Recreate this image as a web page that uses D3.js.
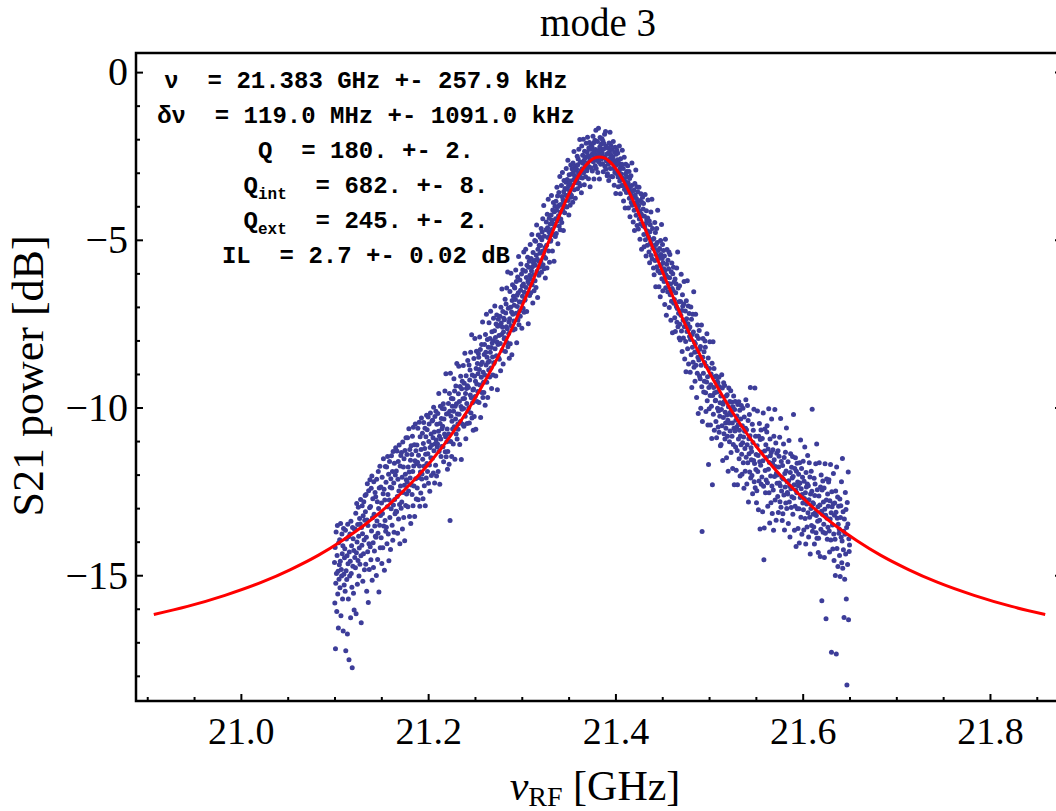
<!DOCTYPE html>
<html>
<head>
<meta charset="utf-8">
<script src="https://cdn.jsdelivr.net/npm/d3@7"></script>
<style>
  body { margin: 0; background: #fff; }
</style>
</head>
<body>
<div id="chart"></div>
<script>
// sweep limits of the network analyser (GHz), points are evenly spaced
const sweepGHz = [21.10, 21.65];

// measured S21 power, one value per sweep point (dB), 32 points per row pair
const s21dB = [
  -14.62, -15.83, -14.17, -17.19, -15.24, -13.71, -14.95, -16.08, -14.41, -13.52, -15.56, -14.88, -16.57, -14.03, -15.12, -14.69,
  -13.94, -15.37, -14.58, -13.46, -16.21, -14.83, -15.02, -13.77, -14.36, -15.71, -14.12, -16.66, -13.61, -14.97, -15.29, -14.48,
  -14.21, -15.48, -13.66, -17.25, -14.87, -13.92, -15.13, -14.42, -16.75, -13.48, -14.66, -15.71, -13.85, -17.52, -14.31, -15.02,
  -13.77, -14.58, -16.27, -13.39, -14.95, -14.12, -15.36, -17.76, -13.58, -14.73, -13.91, -15.54, -14.26, -16.04, -13.63, -14.47,
  -13.62, -14.78, -13.15, -16.15, -14.33, -12.86, -14.01, -15.27, -13.49, -14.56, -12.97, -13.84, -15.02, -14.19, -13.31, -14.67,
  -13.47, -12.74, -14.42, -16.42, -13.58, -14.11, -12.93, -13.76, -15.18, -13.23, -14.36, -12.81, -13.95, -14.84, -13.36, -12.62,
  -13.11, -14.67, -12.59, -13.87, -15.48, -13.35, -12.27, -14.30, -13.52, -15.81, -12.48, -14.06, -14.83, -12.99, -12.15, -14.15,
  -12.95, -14.54, -12.41, -13.68, -12.04, -15.15, -13.29, -12.72, -14.03, -14.77, -12.21, -13.18, -14.28, -13.53, -12.53, -13.84,
  -12.66, -13.87, -15.01, -12.14, -13.38, -12.81, -14.53, -13.75, -11.91, -13.01, -15.50, -12.40, -13.51, -11.75, -14.18, -13.22,
  -12.37, -13.88, -12.85, -14.65, -12.08, -13.16, -14.18, -12.57, -11.53, -13.53, -12.44, -14.85, -12.76, -13.37, -11.76, -13.69,
  -12.23, -13.57, -11.77, -14.06, -12.96, -11.46, -12.59, -13.77, -11.99, -14.57, -12.76, -11.61, -13.28, -12.38, -14.23, -12.12,
  -13.02, -11.44, -12.40, -13.51, -11.91, -13.96, -11.31, -12.91, -12.25, -13.72, -11.66, -12.74, -13.17, -12.01, -11.20, -13.09,
  -11.89, -13.11, -11.30, -12.65, -13.75, -12.14, -11.61, -13.32, -12.49, -11.12, -12.89, -14.06, -11.74, -12.34, -11.43, -13.00,
  -11.34, -12.82, -12.08, -13.62, -11.03, -12.53, -11.77, -13.28, -11.53, -12.32, -13.97, -11.28, -11.99, -12.92, -10.90, -12.15,
  -12.58, -11.40, -12.23, -10.90, -12.96, -11.77, -12.49, -10.63, -11.92, -13.25, -11.25, -12.10, -11.57, -13.46, -11.14, -12.31,
  -11.40, -12.59, -10.86, -11.91, -12.93, -10.59, -11.74, -12.34, -11.11, -13.25, -11.59, -10.49, -12.12, -11.29, -12.73, -11.68,
  -11.12, -12.40, -11.63, -10.62, -12.75, -11.42, -12.09, -10.44, -11.74, -12.94, -10.87, -11.92, -12.55, -11.25, -10.31, -12.13,
  -11.98, -10.77, -11.54, -12.72, -11.07, -10.45, -11.75, -12.33, -11.22, -10.62, -12.93, -11.39, -10.87, -12.10, -10.23, -11.67,
  -10.66, -11.91, -11.38, -10.28, -12.26, -11.01, -10.49, -11.71, -12.50, -11.19, -10.16, -11.50, -10.79, -12.03, -11.12, -10.40,
  -11.51, -10.38, -10.90, -11.95, -9.99, -11.29, -10.73, -12.25, -10.27, -11.08, -11.72, -10.11, -10.97, -12.04, -10.50, -11.18,
  -11.09, -10.18, -11.91, -10.71, -9.58, -11.31, -10.86, -12.29, -10.48, -9.96, -10.94, -11.46, -10.33, -11.16, -10.63, -10.03,
  -10.56, -11.17, -9.89, -11.62, -10.34, -10.04, -10.79, -9.51, -11.32, -10.87, -8.99, -11.47, -10.19, -11.02, -10.64, -11.84,
  -11.31, -10.18, -9.88, -10.79, -11.69, -9.58, -10.11, -13.37, -8.98, -11.01, -10.26, -9.73, -11.46, -10.41, -9.96, -10.64,
  -9.74, -11.09, -10.11, -9.14, -10.57, -9.51, -11.54, -9.96, -10.34, -9.36, -10.79, -9.89, -8.69, -10.94, -10.19, -10.49,
  -10.65, -9.59, -8.77, -10.20, -9.82, -11.10, -9.37, -10.42, -9.07, -9.97, -11.55, -9.44, -10.05, -9.22, -10.50, -9.74,
  -8.75, -10.03, -10.56, -9.28, -9.73, -8.38, -10.26, -9.58, -10.93, -9.05, -9.43, -9.88, -10.48, -9.35, -8.60, -10.11,
  -9.40, -10.01, -8.73, -10.46, -9.18, -8.88, -9.63, -8.35, -10.16, -9.71, -7.83, -10.31, -9.03, -9.86, -9.48, -10.68,
  -9.45, -8.54, -10.27, -9.07, -7.94, -9.67, -9.22, -10.65, -8.84, -8.32, -9.30, -9.82, -8.69, -9.52, -8.99, -8.39,
  -8.50, -9.85, -8.87, -7.90, -9.33, -8.27, -10.30, -8.72, -9.10, -8.12, -9.55, -8.65, -7.45, -9.70, -8.95, -9.25,
  -9.55, -8.42, -8.12, -9.03, -9.93, -7.82, -8.35, -8.73, -7.22, -9.25, -8.50, -7.97, -9.70, -8.65, -8.20, -8.88,
  -7.47, -8.62, -9.09, -7.94, -8.35, -7.13, -8.82, -8.21, -9.43, -7.74, -8.08, -8.49, -9.03, -8.01, -7.34, -8.69,
  -8.66, -7.71, -6.97, -8.25, -7.91, -9.06, -7.51, -8.46, -7.24, -8.05, -9.47, -7.58, -8.12, -7.37, -8.52, -7.85,
  -8.56, -7.55, -7.28, -8.09, -8.90, -7.01, -7.48, -7.82, -6.47, -8.29, -7.61, -7.14, -8.70, -7.75, -7.34, -7.95,
  -7.38, -7.92, -6.77, -8.33, -7.18, -6.91, -7.59, -6.44, -8.06, -7.65, -5.96, -8.19, -7.04, -7.79, -7.45, -8.53,
  -7.35, -6.54, -8.10, -7.01, -6.00, -7.56, -7.15, -8.43, -6.81, -6.34, -7.22, -7.69, -6.68, -7.42, -6.95, -6.41,
  -6.44, -7.66, -6.78, -5.90, -7.19, -6.24, -8.07, -6.65, -6.99, -6.11, -7.39, -6.58, -5.50, -7.53, -6.85, -7.12,
  -6.20, -7.28, -6.50, -5.72, -6.86, -6.02, -7.64, -6.38, -6.68, -5.90, -7.04, -6.32, -5.36, -7.16, -6.56, -6.80,
  -6.78, -5.94, -5.28, -6.42, -6.12, -7.14, -5.76, -6.60, -5.52, -6.24, -7.50, -5.82, -6.30, -5.64, -6.66, -6.06,
  -5.14, -6.16, -6.58, -5.56, -5.92, -4.84, -6.34, -5.80, -6.88, -5.38, -5.68, -6.04, -6.52, -5.62, -5.02, -6.22,
  -5.76, -5.04, -6.42, -5.46, -4.56, -5.94, -5.58, -6.72, -5.28, -4.86, -5.64, -6.06, -5.16, -5.82, -5.40, -4.92,
  -5.17, -5.63, -4.66, -5.97, -5.00, -4.77, -5.34, -4.37, -5.74, -5.40, -3.98, -5.86, -4.89, -5.52, -5.23, -6.14,
  -5.55, -4.70, -4.47, -5.16, -5.84, -4.24, -4.64, -4.93, -3.79, -5.33, -4.76, -4.36, -5.67, -4.87, -4.53, -5.04,
  -5.01, -4.26, -3.68, -4.69, -4.42, -5.33, -4.11, -4.85, -3.89, -4.53, -5.64, -4.16, -4.58, -4.00, -4.90, -4.37,
  -3.85, -4.81, -4.12, -3.43, -4.44, -3.69, -5.12, -4.01, -4.28, -3.59, -4.59, -3.96, -3.11, -4.70, -4.17, -4.38,
  -3.95, -3.38, -4.48, -3.71, -2.99, -4.10, -3.81, -4.72, -3.57, -3.23, -3.86, -4.19, -3.47, -4.00, -3.67, -3.28,
  -2.87, -3.68, -4.02, -3.20, -3.49, -2.63, -3.83, -3.39, -4.26, -3.06, -3.30, -3.59, -3.97, -3.25, -2.77, -3.73,
  -3.67, -3.04, -2.88, -3.38, -3.88, -2.71, -3.00, -3.21, -2.37, -3.51, -3.09, -2.79, -3.76, -3.17, -2.92, -3.30,
  -2.89, -3.22, -2.51, -3.48, -2.76, -2.59, -3.01, -2.30, -3.31, -3.06, -2.01, -3.39, -2.68, -3.14, -2.93, -3.60,
  -2.20, -2.88, -3.16, -2.48, -2.72, -2.00, -3.00, -2.64, -3.36, -2.36, -2.56, -2.80, -3.12, -2.52, -2.12, -2.92,
  -2.94, -2.38, -1.94, -2.70, -2.50, -3.18, -2.26, -2.82, -2.10, -2.58, -3.42, -2.30, -2.62, -2.18, -2.86, -2.46,
  -2.23, -2.95, -2.43, -1.91, -2.67, -2.11, -3.19, -2.35, -2.55, -2.03, -2.79, -2.31, -1.73, -2.87, -2.47, -2.63,
  -2.55, -2.07, -2.99, -2.35, -1.67, -2.67, -2.43, -3.19, -2.23, -1.95, -2.47, -2.75, -2.15, -2.59, -2.31, -1.99,
  -2.41, -2.73, -2.05, -2.97, -2.29, -2.13, -2.53, -1.85, -2.81, -2.57, -1.77, -2.89, -2.21, -2.65, -2.45, -3.09,
  -3.03, -2.43, -2.27, -2.75, -3.23, -2.11, -2.39, -2.59, -1.79, -2.87, -2.47, -2.19, -3.11, -2.55, -2.31, -2.67,
  -3.12, -2.53, -2.07, -2.87, -2.66, -3.37, -2.40, -2.99, -2.24, -2.74, -3.62, -2.45, -2.78, -2.32, -3.03, -2.61,
  -2.41, -3.13, -3.42, -2.71, -2.96, -2.20, -3.25, -2.88, -3.63, -2.58, -2.79, -3.04, -3.38, -2.75, -2.33, -3.17,
  -3.38, -2.87, -3.84, -3.17, -2.54, -3.50, -3.25, -4.05, -3.04, -2.75, -3.29, -3.59, -2.96, -3.42, -3.12, -2.79,
  -3.30, -4.05, -3.51, -2.96, -3.76, -3.17, -4.31, -3.42, -3.63, -3.09, -3.89, -3.38, -2.71, -3.97, -3.55, -3.72,
  -4.47, -3.72, -3.52, -4.12, -4.72, -3.32, -3.67, -3.92, -2.92, -4.27, -3.77, -3.42, -4.57, -3.87, -3.57, -4.02,
  -4.68, -3.98, -3.43, -4.38, -4.13, -4.98, -3.83, -4.53, -3.63, -4.23, -5.28, -3.88, -4.28, -3.73, -4.58, -4.08,
  -3.92, -4.84, -5.21, -4.30, -4.62, -3.65, -5.00, -4.51, -5.48, -4.13, -4.40, -4.73, -5.16, -4.35, -3.81, -4.89,
  -4.93, -5.36, -4.44, -5.68, -4.76, -4.55, -5.09, -4.17, -5.47, -5.14, -3.79, -5.57, -4.66, -5.25, -4.98, -5.84,
  -4.96, -6.04, -5.26, -4.48, -5.62, -4.78, -6.40, -5.14, -5.44, -4.66, -5.80, -5.08, -4.12, -5.92, -5.32, -5.56,
  -6.40, -5.50, -5.26, -5.98, -6.70, -5.02, -5.44, -5.74, -4.54, -6.16, -5.56, -5.14, -6.52, -5.68, -5.32, -5.86,
  -6.24, -5.48, -6.93, -5.92, -4.98, -6.43, -6.05, -7.25, -5.73, -5.29, -6.11, -6.55, -5.61, -6.30, -5.86, -5.36,
  -7.02, -6.13, -5.44, -6.64, -6.32, -7.40, -5.95, -6.83, -5.69, -6.45, -7.77, -6.01, -6.51, -5.82, -6.89, -6.26,
  -6.78, -7.32, -6.17, -7.73, -6.58, -6.31, -6.99, -5.84, -7.46, -7.05, -5.36, -7.59, -6.44, -7.19, -6.85, -7.93,
  -6.37, -7.52, -7.99, -6.84, -7.25, -6.03, -7.72, -7.11, -8.33, -6.64, -6.98, -7.39, -7.93, -6.91, -6.24, -7.59,
  -8.55, -7.42, -7.12, -8.03, -8.93, -6.82, -7.35, -7.73, -6.22, -8.25, -7.50, -6.97, -8.70, -7.65, -7.20, -7.88,
  -7.60, -8.95, -7.97, -7.00, -8.43, -7.37, -9.40, -7.82, -8.20, -7.22, -8.65, -7.75, -6.55, -8.80, -8.05, -8.35,
  -9.22, -8.10, -7.22, -8.74, -8.34, -9.70, -7.86, -8.98, -7.54, -8.50, -10.18, -7.94, -8.58, -7.70, -9.06, -8.26,
  -9.14, -8.18, -10.02, -8.74, -7.54, -9.38, -13.70, -10.42, -8.50, -7.94, -8.98, -9.54, -8.34, -9.22, -8.66, -8.02,
  -8.20, -9.56, -10.12, -8.76, -9.24, -7.80, -9.80, -9.08, -10.52, -8.52, -11.70, -9.40, -10.04, -8.84, -8.04, -9.64,
  -10.52, -9.32, -9.00, -9.96, -10.92, -8.68, -12.30, -9.64, -8.04, -10.20, -9.40, -8.84, -10.68, -9.56, -9.08, -9.80,
  -9.78, -10.42, -9.06, -10.90, -9.54, -9.22, -10.02, -9.26, -10.58, -10.10, -9.10, -10.74, -9.38, -10.26, -9.86, -11.14,
  -9.66, -11.10, -10.06, -9.02, -10.54, -9.42, -11.58, -9.90, -10.30, -9.26, -10.78, -9.82, -9.34, -10.94, -10.14, -10.46,
  -10.62, -9.66, -11.50, -10.22, -9.62, -10.86, -10.38, -11.90, -9.98, -9.42, -10.46, -11.02, -9.82, -10.70, -10.14, -9.50,
  -11.34, -10.22, -9.84, -10.86, -10.46, -11.82, -9.98, -11.10, -9.66, -10.62, -12.30, -10.06, -10.70, -9.82, -11.18, -10.38,
  -11.87, -10.59, -10.25, -11.28, -12.30, -9.91, -10.51, -10.94, -9.83, -11.53, -10.68, -10.08, -12.04, -10.85, -10.34, -11.11,
  -9.94, -11.39, -11.99, -10.54, -11.05, -10.02, -11.65, -10.88, -12.41, -10.28, -10.71, -11.22, -11.90, -10.62, -9.77, -11.48,
  -10.66, -12.28, -11.11, -9.94, -11.65, -10.39, -12.82, -10.93, -11.38, -10.21, -11.92, -10.84, -9.40, -12.10, -11.20, -11.56,
  -11.31, -12.03, -10.50, -12.57, -11.04, -10.68, -11.58, -10.05, -12.21, -11.67, -9.42, -12.39, -10.86, -11.85, -11.40, -12.84,
  -12.48, -11.14, -10.10, -11.91, -11.43, -13.05, -10.86, -12.19, -10.48, -11.62, -13.62, -10.95, -11.72, -10.67, -12.29, -11.33,
  -12.07, -10.92, -13.11, -11.59, -10.16, -12.35, -14.54, -13.59, -11.30, -10.64, -11.88, -12.54, -11.11, -12.16, -11.49, -10.73,
  -10.54, -12.24, -12.94, -11.24, -11.84, -10.04, -12.54, -11.64, -13.44, -10.94, -11.44, -12.04, -12.84, -11.34, -10.34, -12.34,
  -13.16, -11.66, -11.26, -12.46, -13.66, -10.86, -11.56, -12.06, -10.06, -12.76, -11.76, -11.06, -13.36, -11.96, -11.36, -12.26,
  -12.01, -12.65, -11.29, -13.13, -11.77, -11.45, -12.25, -10.89, -12.81, -12.33, -10.33, -12.97, -11.61, -12.49, -12.09, -13.37,
  -11.73, -13.17, -12.13, -11.09, -12.61, -11.49, -13.65, -11.97, -12.37, -11.33, -12.85, -11.89, -10.61, -13.01, -12.21, -12.53,
  -12.58, -11.62, -13.46, -12.18, -10.98, -12.82, -12.34, -13.86, -11.94, -11.38, -12.42, -12.98, -11.78, -12.66, -12.10, -11.46,
  -13.18, -12.06, -10.21, -12.70, -12.30, -13.66, -11.82, -12.94, -11.50, -12.46, -14.14, -11.90, -12.54, -11.66, -13.02, -12.22,
  -13.61, -12.33, -11.99, -13.02, -14.04, -11.65, -12.25, -12.68, -10.97, -13.27, -12.42, -11.82, -13.78, -12.59, -12.08, -12.85,
  -11.60, -13.05, -13.65, -12.20, -12.71, -11.18, -13.31, -12.54, -14.07, -11.94, -12.37, -12.88, -13.56, -12.28, -11.43, -13.14,
  -12.33, -13.86, -12.75, -11.65, -13.27, -12.07, -14.37, -12.58, -13.01, -11.90, -13.52, -12.50, -10.05, -13.69, -12.84, -13.18,
  -12.87, -13.56, -12.11, -14.07, -12.62, -12.28, -13.13, -11.68, -13.73, -13.22, -11.09, -13.90, -12.45, -13.39, -12.96, -14.32,
  -13.90, -12.64, -11.65, -13.36, -12.91, -14.44, -12.37, -13.63, -12.01, -13.09, -15.76, -12.46, -13.18, -12.19, -13.72, -12.82,
  -13.48, -12.40, -14.47, -13.03, -11.68, -13.75, -13.21, -16.30, -12.76, -12.13, -13.30, -13.93, -12.58, -13.57, -12.94, -12.22,
  -12.15, -13.68, -14.31, -12.78, -13.32, -11.70, -13.95, -13.14, -17.30, -12.51, -12.96, -13.50, -14.22, -12.87, -11.97, -13.77,
  -14.56, -13.21, -12.85, -13.93, -15.01, -12.49, -13.12, -17.35, -11.77, -14.20, -13.30, -12.67, -14.74, -13.48, -12.94, -13.75,
  -13.62, -14.41, -12.73, -15.04, -13.28, -12.93, -13.87, -12.21, -14.63, -13.98, -11.52, -14.79, -13.11, -14.24, -13.69, -16.26,
  -13.32, -15.12, -13.78, -12.53, -14.37, -13.04, -15.71, -13.58, -18.27, -12.83, -14.68, -13.47, -11.92, -16.33, -13.91, -14.29,
  -14.10
];

// fitted lorentzian
const fitGHz = [20.907, 20.943, 20.983, 21.023, 21.053, 21.083, 21.108, 21.133, 21.158, 21.183, 21.203, 21.223, 21.243,
  21.263, 21.283, 21.293, 21.303, 21.313, 21.323, 21.333, 21.343, 21.353, 21.363, 21.368, 21.373, 21.378, 21.383,
  21.388, 21.393, 21.398, 21.403, 21.413, 21.423, 21.433, 21.443, 21.453, 21.463, 21.473, 21.483, 21.503, 21.523,
  21.543, 21.563, 21.583, 21.608, 21.633, 21.658, 21.683, 21.713, 21.743, 21.783, 21.823, 21.859];
const fitdB = [-16.17, -15.93, -15.60, -15.20, -14.83, -14.40, -13.97, -13.48, -12.90, -12.22, -11.60, -10.88, -10.05,
  -9.10, -8.02, -7.43, -6.80, -6.14, -5.45, -4.76, -4.09, -3.48, -2.98, -2.79, -2.65, -2.56, -2.53,
  -2.56, -2.65, -2.79, -2.98, -3.48, -4.09, -4.76, -5.45, -6.14, -6.80, -7.43, -8.02, -9.10, -10.05,
  -10.88, -11.60, -12.22, -12.90, -13.48, -13.97, -14.40, -14.83, -15.20, -15.60, -15.93, -16.17];

const xTicks = [21.0, 21.2, 21.4, 21.6, 21.8];
const xMinor = [20.9, 20.95, 21.05, 21.1, 21.15, 21.25, 21.3, 21.35, 21.45, 21.5, 21.55, 21.65, 21.7, 21.75, 21.85];
const yTicks = [0, -5, -10, -15];
const yMinor = [-18, -17, -16, -14, -13, -12, -11, -9, -8, -7, -6, -4, -3, -2, -1];

// fit results box: symbol, subscript, rest of the line
const fitSymbols = ["ν", "δν", "Q", "Q", "Q", "IL"];
const fitSubs = ["", "", "", "int", "ext", ""];
const fitValues = [
  "  = 21.383 GHz +- 257.9 kHz",
  "  = 119.0 MHz +- 1091.0 kHz",
  "  = 180. +- 2.",
  "  = 682. +- 8.",
  "  = 245. +- 2.",
  "  = 2.7 +- 0.02 dB"
];

const width = 1056;
const height = 811;
const box = {left: 136, right: 1063, top: 53, bottom: 701};
const serif = "'Liberation Serif', 'Times New Roman', serif";

const svg = d3.select("#chart")
    .append("svg")
    .attr("width", width)
    .attr("height", height)
    .style("display", "block");

const x = d3.scaleLinear()
    .domain([20.888, 21.878])
    .range([box.left, box.right]);

const y = d3.scaleLinear()
    .domain([-18.75, 0.57])
    .range([box.bottom, box.top]);

const points = s21dB.map((v, i) => ({
    f: sweepGHz[0] + i * (sweepGHz[1] - sweepGHz[0]) / (s21dB.length - 1),
    v: v
}));

// measured points
svg.append("g")
    .selectAll("circle")
    .data(points)
    .enter()
    .append("circle")
    .attr("cx", (d) => x(d.f))
    .attr("cy", (d) => y(d.v))
    .attr("r", 2.5)
    .attr("fill", "#3d3d99");

// fit curve
const fitLine = d3.line()
    .x((d, i) => x(fitGHz[i]))
    .y((d) => y(d))
    .curve(d3.curveMonotoneX);

svg.append("path")
    .datum(fitdB)
    .attr("d", fitLine)
    .attr("fill", "none")
    .attr("stroke", "#ff0000")
    .attr("stroke-width", 3);

// frame
svg.append("rect")
    .attr("x", box.left)
    .attr("y", box.top)
    .attr("width", box.right - box.left)
    .attr("height", box.bottom - box.top)
    .attr("fill", "none")
    .attr("stroke", "#000")
    .attr("stroke-width", 2.5);

// axes, ticks point into the frame
const styleAxis = (g) => {
    g.select(".domain").remove();
    g.selectAll(".tick line").attr("stroke", "#000").attr("stroke-width", 2);
    g.selectAll("text")
        .attr("font-family", serif)
        .attr("font-size", 38)
        .attr("fill", "#000");
};

svg.append("g")
    .attr("transform", "translate(0," + box.bottom + ")")
    .call(d3.axisBottom(x).tickValues(xTicks).tickSize(-7).tickPadding(16).tickFormat(d3.format(".1f")))
    .call(styleAxis);

svg.append("g")
    .attr("transform", "translate(0," + box.bottom + ")")
    .call(d3.axisBottom(x).tickValues(xMinor).tickSize(-4).tickFormat(""))
    .call(styleAxis);

svg.append("g")
    .attr("transform", "translate(" + box.left + ",0)")
    .call(d3.axisLeft(y).tickValues(yTicks).tickSize(-7).tickPadding(8))
    .call(styleAxis)
    .selectAll("text")
    .attr("font-size", 40);

svg.append("g")
    .attr("transform", "translate(" + box.left + ",0)")
    .call(d3.axisLeft(y).tickValues(yMinor).tickSize(-4).tickFormat(""))
    .call(styleAxis);

svg.append("g")
    .attr("transform", "translate(" + box.right + ",0)")
    .call(d3.axisRight(y).tickValues(yTicks).tickSize(-8).tickFormat(""))
    .call(styleAxis);

// title and axis labels
svg.append("text")
    .attr("x", 598)
    .attr("y", 36)
    .attr("text-anchor", "middle")
    .attr("font-family", serif)
    .attr("font-size", 39)
    .text("mode 3");

svg.append("text")
    .attr("transform", "translate(43,376) rotate(-90)")
    .attr("text-anchor", "middle")
    .attr("font-family", serif)
    .attr("font-size", 44)
    .text("S21 power [dB]");

const xTitle = svg.append("text")
    .attr("x", 595)
    .attr("y", 800)
    .attr("text-anchor", "middle")
    .attr("font-family", serif)
    .attr("font-size", 42);
xTitle.append("tspan").attr("font-style", "italic").text("ν");
xTitle.append("tspan").attr("font-size", 28).attr("dy", 6).text("RF");
xTitle.append("tspan").attr("dy", -6).text(" [GHz]");

// fit results
const info = svg.append("g")
    .attr("font-family", "'Liberation Mono', 'Courier New', monospace")
    .attr("font-weight", "bold")
    .attr("font-size", 24)
    .attr("fill", "#000");

fitSymbols.forEach((s, i) => {
    const t = info.append("text")
        .attr("x", 366)
        .attr("y", 88 + i * 35)
        .attr("text-anchor", "middle")
        .style("white-space", "pre");
    t.append("tspan").text(s);
    if (fitSubs[i]) {
        t.append("tspan").attr("font-size", 16).attr("dy", 6).text(fitSubs[i]);
        t.append("tspan").attr("dy", -6).text(fitValues[i]);
    } else {
        t.append("tspan").text(fitValues[i]);
    }
});
</script>
</body>
</html>
